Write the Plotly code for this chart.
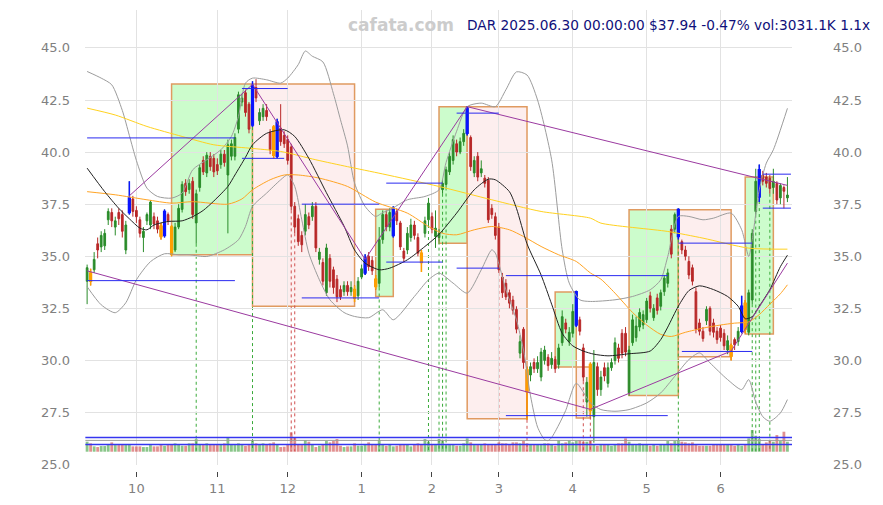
import plotly.graph_objects as go

# ---------------- data ----------------
opens = [33.8,34.2,34.35,35.6,35.45,35.5,36.75,37.1,36.4,37.1,37.0,35.3,37.1,37.75,37.2,36.75,35.9,36.7,36.5,36.9,
         36.7,36.45,36.0,37.0,36.4,35.3,36.4,37.25,38.5,38.2,38.6,36.6,38.3,39.6,39.0,39.8,39.7,39.4,39.4,39.9,
         38.9,39.8,39.8,41.1,42.4,42.85,42.3,41.3,43.1,41.5,41.7,42.0,40.95,41.2,39.8,41.15,40.8,40.6,40.25,37.4,
         36.8,36.0,36.2,36.9,36.9,37.4,34.85,34.7,33.25,34.9,34.35,33.9,33.4,33.3,33.6,33.3,33.4,33.1,34.0,34.2,
         35.0,34.8,33.9,33.7,35.8,37.0,36.4,36.0,37.15,36.6,35.25,35.3,35.9,36.5,35.9,35.15,36.1,36.75,36.9,35.95,
         35.9,38.2,38.45,39.05,39.6,40.4,40.0,40.5,40.9,40.7,39.0,39.8,39.0,38.75,38.65,37.3,36.9,36.4,34.0,33.7,
         33.25,32.9,32.45,30.35,31.5,29.55,29.3,29.9,29.6,29.2,30.0,30.15,29.8,30.05,29.8,30.85,31.8,30.9,31.3,31.7,
         31.95,30.6,28.0,29.8,27.3,29.7,28.6,29.65,28.9,29.65,30.0,30.6,31.3,31.3,28.45,30.85,31.1,31.6,31.7,31.95,
         33.1,32.05,33.0,32.6,33.3,33.7,36.3,36.3,35.95,35.7,35.3,34.75,34.45,33.3,31.8,31.4,31.9,32.5,31.8,31.4,
         31.55,31.3,30.5,30.7,31.0,30.9,31.4,32.75,31.35,32.9,37.15,37.85,38.9,38.8,38.75,38.3,38.5,37.8,38.3,37.8]
highs = [34.6,34.4,35.2,35.9,36.2,36.3,37.3,37.3,36.9,37.3,37.2,36.7,38.6,37.9,37.4,36.9,36.4,37.1,37.7,37.1,
         36.9,36.6,37.25,37.1,36.5,36.6,37.5,38.6,38.7,38.7,38.8,38.2,39.4,39.8,40.0,40.0,39.9,39.7,40.1,40.1,
         40.6,40.6,40.9,42.9,42.8,43.0,42.4,43.4,43.5,42.1,42.3,42.3,41.1,41.3,41.6,42.3,41.0,40.8,40.4,37.6,
         37.0,36.2,37.5,37.1,37.6,37.6,35.4,34.9,35.6,35.1,34.5,34.1,33.6,33.8,33.8,33.8,33.6,34.0,34.6,35.1,
         35.2,35.0,34.1,36.4,37.2,37.2,37.3,37.4,37.3,36.7,35.4,36.4,36.8,36.7,36.1,35.3,36.9,37.8,37.1,37.2,
         36.3,38.7,39.3,40.0,40.8,40.6,40.7,41.1,42.2,40.8,39.8,40.0,39.6,38.9,38.8,37.5,37.1,36.6,34.2,33.9,
         33.4,33.1,32.6,31.2,31.6,29.7,29.9,30.1,30.2,30.6,30.7,30.3,30.4,30.2,30.8,32.4,32.0,31.6,32.7,33.35,
         32.1,30.8,29.2,29.9,30.5,29.9,29.5,29.9,29.9,30.1,31.1,30.8,31.5,31.6,30.7,32.2,32.1,32.5,32.4,33.0,
         33.3,32.7,33.2,33.4,34.1,34.4,36.5,37.1,37.3,35.8,35.5,35.0,34.6,33.5,32.0,31.6,32.6,32.6,32.0,31.6,
         31.7,31.5,31.2,30.8,31.1,31.6,33.1,32.9,33.4,36.3,39.2,39.4,39.1,39.0,38.9,39.2,38.6,38.5,38.4,38.8]
lows = [32.7,33.6,34.2,34.9,35.2,35.3,36.5,36.4,36.0,36.5,35.9,35.1,37.0,36.9,36.6,35.9,35.2,36.5,36.3,36.3,
        36.1,35.8,35.9,36.5,35.0,35.2,36.3,37.1,37.9,38.0,36.8,35.6,38.1,38.9,38.8,39.1,38.8,38.9,39.2,39.3,
        36.1,39.6,39.6,40.9,42.2,41.7,40.9,41.2,42.4,41.3,41.5,41.5,39.9,39.7,39.7,40.3,40.2,39.4,37.2,36.1,
        35.5,35.2,36.0,36.3,36.7,35.2,34.6,33.6,33.1,33.5,33.2,32.8,32.9,33.1,33.1,33.1,32.8,32.9,33.9,34.1,
        34.3,34.1,33.4,33.5,35.6,36.2,36.2,35.9,36.5,35.3,34.7,35.1,35.7,35.8,35.0,34.25,35.9,36.5,36.1,35.4,
        35.7,38.0,38.3,38.9,39.4,39.8,39.9,40.3,40.8,39.1,38.8,38.6,38.8,38.3,36.6,36.8,35.8,34.2,33.0,32.9,
        32.5,32.2,31.3,30.1,29.6,27.15,29.0,29.4,29.4,29.0,29.8,29.5,29.6,29.4,29.6,30.7,31.3,30.7,31.1,31.6,
        31.2,29.0,27.3,27.3,26.05,28.3,28.3,29.0,28.7,29.5,29.8,29.9,30.1,30.2,28.3,30.7,30.9,31.4,31.5,31.8,
        32.3,31.9,32.2,32.4,33.1,33.5,34.9,36.1,35.8,35.1,34.8,33.9,33.6,31.3,31.2,30.9,31.7,31.2,31.1,30.8,
        30.9,30.5,30.3,30.0,30.5,30.7,31.3,31.3,31.2,32.7,37.0,37.6,38.4,38.3,38.0,38.0,37.5,37.5,37.3,37.6]
closes = [34.45,33.8,34.85,35.3,36.0,36.1,37.15,36.7,36.7,36.8,36.2,36.5,37.8,37.15,36.9,36.1,36.2,37.0,37.6,36.55,
          36.3,35.95,37.15,36.7,35.1,36.4,37.3,38.45,38.1,38.5,37.0,38.0,39.25,39.05,39.85,39.3,39.05,39.1,39.9,39.5,
          40.35,40.4,40.7,42.75,42.6,41.9,41.1,43.2,42.6,41.9,42.1,41.7,40.1,39.85,41.45,40.5,40.4,39.6,37.4,36.4,
          35.7,35.55,37.0,36.5,37.4,35.4,35.2,33.8,35.4,33.8,33.5,33.05,33.05,33.6,33.3,33.5,33.0,33.8,34.4,34.9,
          34.5,34.3,33.55,35.8,37.0,36.4,37.1,37.3,36.7,35.45,34.9,36.1,36.5,36.0,35.15,34.7,36.7,37.55,36.3,36.35,
          36.1,38.5,39.15,39.8,40.6,40.0,40.5,40.9,42.1,39.3,39.6,38.8,39.2,38.5,36.75,37.0,36.0,34.35,33.25,33.05,
          32.75,32.4,31.5,30.9,29.9,28.5,29.7,29.6,29.9,30.4,30.5,29.75,30.1,29.6,30.6,32.1,31.5,31.35,32.35,33.3,
          31.4,29.2,28.95,27.6,29.9,28.6,29.2,29.25,29.65,29.9,30.85,30.1,30.35,30.4,30.5,31.95,31.65,32.3,32.2,32.85,
          32.5,32.5,32.4,33.25,33.95,34.2,35.1,37.0,37.25,35.3,35.0,34.1,33.8,31.5,31.4,31.05,32.45,31.4,31.35,31.0,
          31.1,30.7,30.95,30.2,30.75,31.4,32.6,31.5,33.25,36.1,38.6,39.15,38.6,38.5,38.25,38.6,37.7,38.4,38.12,37.94]
volumes_k = [3030,2525,1616,1414,1717,1717,2020,2828,2020,2020,2222,2020,2222,1616,1616,1616,1414,1414,2020,1616,
             1616,2020,1818,2020,2222,2525,2222,1818,1818,2525,2525,3838,2222,2020,2525,2020,2020,2020,2222,2525,
             4242,2222,2020,2525,2222,1818,2020,3535,2525,2222,2525,2222,2525,2828,2222,1414,1515,2020,5858,4242,
             2222,2020,3535,3030,2222,1414,1818,2222,3232,2828,3232,3838,1818,1414,1616,1616,2525,1818,1818,2222,
             2828,2222,2222,3535,2222,1818,2222,1616,1818,2222,2020,2222,1616,2020,2525,2222,3838,3030,2222,2020,
             3838,3232,2222,2020,2020,1818,1818,2525,4040,2828,2020,2020,2222,2525,2222,2222,2222,2828,2525,2525,
             2222,2828,2828,2525,3232,2525,2222,2222,2222,2020,2525,2525,2222,1818,3434,2525,2828,3434,2828,3232,
             3535,3030,3030,3434,2222,1818,2020,2222,2222,1818,2222,2525,2525,4040,3030,2222,2020,2525,2222,2222,
             1818,2222,1818,2222,2222,3232,2525,3232,3535,3030,2828,2525,2828,2222,1818,1818,1818,1818,2222,2222,
             2222,2020,2222,2020,1818,2222,1818,2222,4040,6565,4848,3838,2222,2828,3232,3030,5050,3232,6060,3031.1]

month_tick_idx = [14, 37, 57, 78, 98, 117, 138, 159, 180]
month_tick_text = ["10", "11", "12", "1", "2", "3", "4", "5", "6"]
price_ticks = [25.0, 27.5, 30.0, 32.5, 35.0, 37.5, 40.0, 42.5, 45.0]

blue_marks = [12, 22, 47, 54, 79, 87, 108, 139, 168, 186, 191]
orange_marks = [1, 21, 24, 53, 76, 82, 95, 125, 143, 183, 187]

ma_black_idx = [0, 5, 9, 12, 15, 17, 19, 23, 27, 30, 33, 36, 40, 42, 45, 47, 51, 56, 59, 63, 68, 73, 76, 79, 83, 86,
                91, 96, 100, 105, 110, 114, 116, 120, 122, 125, 129, 132, 135, 138, 141, 144, 148, 154, 160, 163,
                165, 168, 171, 174, 178, 182, 185, 187, 189, 191, 194, 197, 199]
ma_black_val = [39.23, 38.1, 37.3, 36.8, 36.35, 36.27, 36.5, 36.67, 36.7, 36.9, 37.2, 37.65, 38.35, 38.9, 39.75, 40.35,
                40.9, 41.07, 40.75, 39.7, 38.05, 36.45, 35.3, 34.67, 34.35, 34.43, 34.83, 35.47, 36.05, 37.07, 38.19,
                38.7, 38.67, 38.1, 37.3, 35.6, 34.1, 32.7, 31.3, 30.7, 30.45, 30.3, 30.22, 30.32, 30.45, 31.0, 31.6,
                32.6, 33.35, 33.58, 33.4, 33.07, 32.6, 32.0, 32.1, 32.6, 33.4, 34.5, 35.05]
ma_orange_idx = [0, 8, 17, 24, 30, 40, 44, 47, 52, 56, 60, 66, 74, 82, 91, 97, 101, 105, 110, 115, 120, 124, 129, 134,
                 139, 143, 146, 150, 155, 159, 163, 166, 170, 175, 180, 184, 188, 191, 194, 197, 199]
ma_orange_val = [38.1, 37.95, 37.71, 37.55, 37.62, 37.5, 37.75, 38.19, 38.67, 38.9, 38.9, 38.75, 38.35, 37.6, 37.07,
                 36.43, 36.1, 36.03, 36.27, 36.43, 36.27, 35.95, 35.47, 35.07, 34.75, 34.2, 33.9, 33.23, 32.3, 31.7,
                 31.25, 31.15, 31.35, 31.55, 31.7, 31.79, 31.85, 32.2, 32.7, 33.2, 33.63]
ma_yellow_idx = [0, 8, 17, 27, 36, 46, 55, 65, 74, 84, 100, 115, 129, 143, 146, 165, 175, 188, 199]
ma_yellow_val = [42.11, 41.78, 41.23, 40.75, 40.35, 40.19, 40.03, 39.63, 39.3, 38.95, 38.35, 37.71, 37.15, 36.83,
                 36.59, 36.19, 35.87, 35.39, 35.34]
bb_up_idx = [0, 4, 7, 10, 12, 14, 17, 20, 24, 27, 30, 34, 38, 41, 43, 45, 47, 51, 55, 57, 60, 62, 64, 67, 70, 72, 74,
             76, 79, 82, 84, 86, 91, 96, 100, 102, 105, 108, 112, 116, 119, 122, 125, 128, 132, 135, 137, 140, 143,
             150, 155, 160, 163, 165, 168, 171, 175, 178, 183, 186, 188, 189, 191, 193, 195, 199]
bb_up_val = [43.87, 43.55, 43.23, 42.0, 40.8, 39.6, 38.27, 37.87, 37.79, 38.03, 39.15, 39.63, 40.11, 40.75, 41.71,
             43.31, 43.55, 43.47, 43.31, 43.55, 44.2, 44.85, 44.6, 44.33, 42.8, 41.55, 40.3, 38.51, 37.39, 36.91,
             37.1, 37.23, 37.71, 37.87, 38.19, 39.5, 41.0, 42.18, 42.35, 42.18, 42.99, 43.85, 43.7, 42.5, 39.63,
             35.31, 33.71, 32.91, 32.83, 32.91, 33.07, 33.39, 33.87, 34.99, 36.91, 36.91, 36.75, 36.83, 37.07,
             36.27, 34.99, 35.8, 38.19, 39.47, 40.11, 42.1]
bb_lo_idx = [0, 4, 8, 11, 14, 18, 22, 26, 29, 34, 39, 43, 45, 47, 51, 55, 57, 59, 61, 63, 66, 69, 73, 76, 80, 84, 87,
             93, 97, 100, 104, 108, 112, 115, 116, 119, 122, 124, 126, 128, 130, 131, 132, 134, 136, 139, 143, 146,
             150, 154, 159, 163, 167, 171, 174, 177, 182, 186, 188, 190, 192, 194, 197, 199]
bb_lo_val = [33.54, 32.67, 32.29, 32.77, 33.87, 34.74, 35.12, 35.07, 35.07, 34.99, 35.31, 35.79, 36.43, 37.39, 38.03,
             38.67, 38.91, 38.35, 36.75, 35.15, 33.87, 32.91, 32.3, 32.11, 32.05, 32.43, 31.95, 33.07, 33.87, 34.19,
             33.71, 33.23, 34.35, 35.31, 35.15, 33.39, 31.95, 30.5, 28.3, 26.8, 26.2, 26.15, 26.3, 26.9, 27.6, 28.9,
             27.96, 27.64, 27.56, 27.64, 27.96, 28.44, 29.24, 30.04, 30.36, 29.88, 29.08, 28.6, 29.08, 28.0, 27.3,
             27.08, 27.48, 28.12]

box_x0 = [24, 47, 82, 100, 108, 133, 139, 154, 168, 187]
box_x1 = [47, 76, 87, 108, 125, 139, 143, 168, 183, 195]
box_lo = [35.07, 32.6, 33.07, 35.63, 27.2, 29.69, 27.24, 28.32, 30.18, 31.27]
box_hi = [43.27, 43.27, 37.26, 42.18, 42.18, 33.28, 29.69, 37.23, 37.23, 38.8]
box_kind = ["up", "down", "up", "up", "down", "up", "down", "up", "down", "up"]

lvl_x0 = [0, 0, 44, 44, 61, 61, 85, 85, 105, 105, 119, 119, 168, 169, 192, 192]
lvl_x1 = [42, 42, 57, 56, 83, 83, 101, 101, 117, 117, 165, 165, 189, 189, 200, 200]
lvl_price = [40.68, 33.83, 43.05, 39.7, 37.5, 33.0, 38.51, 34.72, 41.87, 34.43, 34.07, 27.35, 35.63, 30.43, 38.94, 37.31]

zz_up_idx = [12, 47, 79, 108, 199]
zz_up_val = [37.9, 43.25, 34.85, 42.18, 38.4]
zz_lo_idx = [0, 143, 183, 199]
zz_lo_val = [34.3, 27.65, 30.45, 34.67]

signal_idx = [31, 47, 83, 97, 100, 101, 102, 168, 189, 190, 191, 194, 58, 59, 117, 125, 141, 143]
signal_kind = ["buy"] * 12 + ["sell"] * 6

vol_line_k = [4343, 3434, 2222]
vol_line_color = ["#3535f0", "#9a9a9a", "#3535f0"]

title_text = "DAR 2025.06.30 00:00:00 $37.94 -0.47% vol:3031.1K 1.1x"
watermark = "cafata.com"

# ---------------- figure ----------------
n = len(closes)
xs = list(range(n))
GREEN = "#2a8c2a"
RED = "#b82828"
VOL_BASE = 25.64
FONT = "DejaVu Sans"

fig = go.Figure()

# volume bars (secondary axis)
vcolors = ["rgba(60,160,60,0.6)" if c >= o else "rgba(205,70,70,0.6)" for o, c in zip(opens, closes)]
fig.add_trace(go.Bar(x=xs, y=volumes_k, marker=dict(color=vcolors, line=dict(width=0)), width=0.8,
                     yaxis="y2", hoverinfo="skip", showlegend=False))

# indicator lines
for ix, vals, col in [(bb_up_idx, bb_up_val, "#9c9c9c"), (bb_lo_idx, bb_lo_val, "#9c9c9c"),
                      (ma_yellow_idx, ma_yellow_val, "#ffd21f"), (ma_orange_idx, ma_orange_val, "#ffa424"),
                      (ma_black_idx, ma_black_val, "#222222")]:
    fig.add_trace(go.Scatter(x=ix, y=vals, mode="lines", line=dict(color=col, width=1, shape="spline", smoothing=0.7),
                             hoverinfo="skip", showlegend=False))

# zigzag lines
fig.add_trace(go.Scatter(x=zz_up_idx, y=zz_up_val, mode="lines", line=dict(color="#9b3aa0", width=1),
                         hoverinfo="skip", showlegend=False))
fig.add_trace(go.Scatter(x=zz_lo_idx, y=zz_lo_val, mode="lines", line=dict(color="#9b3aa0", width=1),
                         hoverinfo="skip", showlegend=False))

# candles
fig.add_trace(go.Candlestick(x=xs, open=opens, high=highs, low=lows, close=closes,
                             increasing=dict(line=dict(color=GREEN, width=1), fillcolor=GREEN),
                             decreasing=dict(line=dict(color=RED, width=1), fillcolor=RED),
                             hoverinfo="skip", showlegend=False))
for marks, col in [(blue_marks, "#0a14ff"), (orange_marks, "#ffa000")]:
    fig.add_trace(go.Candlestick(x=marks, open=[opens[i] for i in marks], high=[highs[i] for i in marks],
                                 low=[lows[i] for i in marks], close=[closes[i] for i in marks],
                                 increasing=dict(line=dict(color=col, width=1.5), fillcolor=col),
                                 decreasing=dict(line=dict(color=col, width=1.5), fillcolor=col),
                                 hoverinfo="skip", showlegend=False))

# dummy trace for right-hand price axis
fig.add_trace(go.Scatter(x=[0], y=[35], yaxis="y3", mode="markers", marker=dict(opacity=0),
                         hoverinfo="skip", showlegend=False))

shapes = []
for x0, x1, lo, hi, kind in zip(box_x0, box_x1, box_lo, box_hi, box_kind):
    shapes.append(dict(type="rect", xref="x", yref="y", x0=x0, x1=x1, y0=lo, y1=hi, layer="below",
                       fillcolor="#ccfccc" if kind == "up" else "#fdeeee",
                       line=dict(color="#e09a60", width=1.5)))
for x0, x1, p in zip(lvl_x0, lvl_x1, lvl_price):
    shapes.append(dict(type="line", xref="x", yref="y", x0=x0, x1=x1, y0=p, y1=p,
                       line=dict(color="#2a2af0", width=1)))
for i, kind in zip(signal_idx, signal_kind):
    shapes.append(dict(type="line", xref="x", yref="y", x0=i, x1=i, y0=lows[i], y1=VOL_BASE, layer="below",
                       line=dict(color="#3aaa3a" if kind == "buy" else "#d05050", width=1, dash="dot")))
for v, col in zip(vol_line_k, vol_line_color):
    shapes.append(dict(type="line", xref="x", yref="y2", x0=-0.5, x1=200.3, y0=v, y1=v,
                       line=dict(color=col, width=1.5 if col != "#9a9a9a" else 1)))

price_text = ["%.1f" % t for t in price_ticks]
yrange = [24.98, 46.82]

fig.update_layout(
    width=883, height=505,
    margin=dict(l=85, r=91, t=10, b=34, autoexpand=False),
    paper_bgcolor="white", plot_bgcolor="white",
    font=dict(family=FONT, size=13, color="#808080"),
    showlegend=False,
    shapes=shapes,
    xaxis=dict(range=[-0.6, 200.3], tickmode="array", tickvals=month_tick_idx, ticktext=month_tick_text,
               showgrid=True, gridcolor="#e2e2e2", gridwidth=1, zeroline=False, showline=False,
               ticks="outside", ticklen=5, tickcolor="#444", tickwidth=1,
               anchor="free", position=0, rangeslider=dict(visible=False), automargin=False,
               tickfont=dict(family=FONT, size=13, color="#808080")),
    yaxis=dict(range=yrange, domain=[0.013, 1], tickmode="array", tickvals=price_ticks, ticktext=price_text,
               showgrid=True, gridcolor="#e2e2e2", gridwidth=1, zeroline=False, showline=False,
               ticks="", ticklabelstandoff=14, side="left", automargin=False,
               tickfont=dict(family=FONT, size=13, color="#808080")),
    yaxis2=dict(range=[-4031, 133884], domain=[0.013, 1], overlaying="y", anchor="x", visible=False,
                showgrid=False, zeroline=False),
    yaxis3=dict(range=yrange, overlaying="y", anchor="x", side="right", tickmode="array", automargin=False,
                tickvals=price_ticks, ticktext=price_text, showgrid=False, zeroline=False, showline=False,
                ticks="", ticklabelstandoff=40, tickfont=dict(family=FONT, size=13, color="#808080")),
    annotations=[
        dict(text=title_text, xref="paper", yref="paper", x=1.1125, y=0.9675, xanchor="right", yanchor="middle",
             showarrow=False, font=dict(family=FONT, size=13.7, color="#10107a")),
        dict(text="<b>%s</b>" % watermark, xref="paper", yref="paper", x=0.447, y=0.9675, xanchor="center",
             yanchor="middle", showarrow=False, font=dict(family=FONT, size=17, color="#cccccc")),
    ],
)

fig.write_html("out.html", config={"displayModeBar": False},
               post_script="document.body.style.margin='0';document.body.style.padding='0';")
